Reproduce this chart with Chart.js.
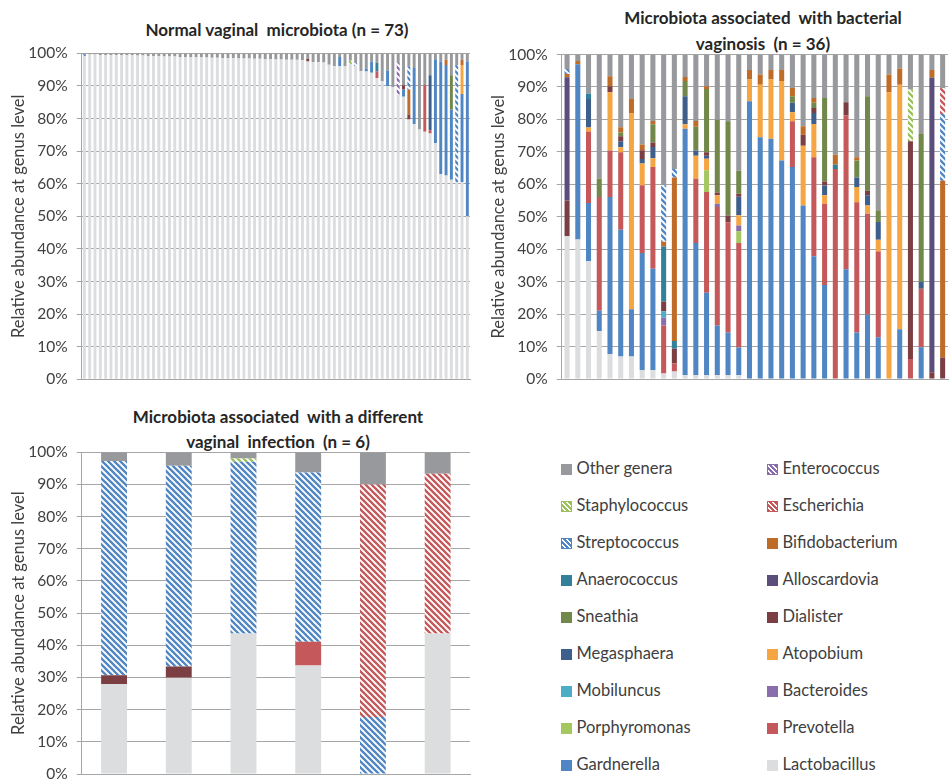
<!DOCTYPE html>
<html><head><meta charset="utf-8">
<script src="https://cdn.jsdelivr.net/npm/chart.js@4.4.0/dist/chart.umd.min.js"></script>
<style>
body{margin:0;background:#fff;width:950px;height:780px;position:relative;overflow:hidden;font-family:Lato,'Open Sans',sans-serif;}
canvas{position:absolute}
.title{position:absolute;font-weight:bold;font-size:17px;color:#262626;text-align:center;white-space:pre;}
.lg{position:absolute;font-size:16.5px;color:#404040;height:20px;line-height:20px;white-space:nowrap}
.lg i{display:inline-block;width:11px;height:11px;margin-right:5px;vertical-align:-1px;box-sizing:border-box}
</style></head><body>
<div class="title" style="left:77px;width:400px;top:17px;line-height:26px">Normal vaginal  microbiota (n = 73)</div>
<div class="title" style="left:563px;width:400px;top:5px;line-height:26px">Microbiota associated  with bacterial
vaginosis  (n = 36)</div>
<div class="title" style="left:78px;width:400px;top:404px;line-height:25px">Microbiota associated  with a different
vaginal  infection  (n = 6)</div>
<canvas id="c1" width="478" height="400" style="left:0;top:0"></canvas>
<canvas id="c2" width="470" height="400" style="left:480px;top:0"></canvas>
<canvas id="c3" width="478" height="405" style="left:0;top:395px"></canvas>
<div id="legend"></div>
<script>
// ---- genera (stacking order, bottom to top) ----
const genera = ['Lactobacillus','Gardnerella','Prevotella','Porphyromonas','Bacteroides','Mobiluncus','Atopobium','Megasphaera','Dialister','Sneathia','Alloscardovia','Anaerococcus','Bifidobacterium','Streptococcus','Escherichia','Staphylococcus','Enterococcus','Other genera'];
// legend reading order (row by row, two columns)
const legendOrder = ['Other genera','Enterococcus','Staphylococcus','Escherichia','Streptococcus','Bifidobacterium','Anaerococcus','Alloscardovia','Sneathia','Dialister','Megasphaera','Atopobium','Mobiluncus','Bacteroides','Porphyromonas','Prevotella','Gardnerella','Lactobacillus'];

// ---- Panel 1: normal vaginal microbiota (73 samples) ----
const normalLactobacillus = [99.2,99.6,99.6,99.5,99.5,99.5,99.5,99.4,99.4,99.4,
 99.3,99.3,99.2,99.1,99.1,99.0,99.0,99.0,98.9,98.9,
 98.9,98.8,98.8,98.7,98.6,98.6,98.5,98.5,98.5,98.4,
 98.4,98.4,98.3,98.3,98.2,98.2,98.1,98.1,98.0,98.0,
 98.0,97.9,97.5,97.3,97.3,97.2,96.5,96.0,96.0,96.0,
 96.7,96.0,94.5,94.4,94.0,92.4,91.4,89.9,89.6,87.3,
 86.7,79.7,78.2,76.6,75.9,75.4,72.5,63.0,62.5,61.2,
 60.5,60.5,50.0];
const normalOther = [0.3,0.4,0.4,0.5,0.5,0.5,0.5,0.6,0.6,0.6,
 0.7,0.7,0.8,0.9,0.9,1.0,1.0,1.0,1.1,1.1,
 1.1,1.2,1.2,1.3,1.4,1.4,1.5,1.5,1.5,1.6,
 1.6,1.6,1.7,1.7,1.8,1.8,1.9,1.9,2.0,2.0,
 2.0,2.1,1.7,2.7,2.7,2.8,3.5,4.0,1.1,4.0,
 2.3,3.0,5.5,4.7,2.5,3.0,8.6,5.3,10.4,3.0,
 9.8,4.0,4.5,23.4,9.7,6.7,1.8,2.5,2.0,6.7,
 3.6,2.0,2.5];
// minor genera as [sample number, value]
const normalGardnerella = [[49,2.9],[54,0.9],[55,3.5],[58,4.8],[61,2.2],[63,17.3],[67,25.7],[68,34.5],[69,33.9],[70,21.5],[72,27],[73,47.5]];
const normalPrevotella = [[56,2.1],[65,14.4],[66,1.0]];
const normalAtopobium = [[72,8.9]];
const normalMegasphaera = [[66,16.9]];
const normalDialister = [[43,0.8],[61,1.3],[62,1.5]];
const normalSneathia = [[70,10.6]];
const normalAnaerococcus = [[56,2.5]];
const normalBifidobacterium = [[62,7.7],[69,1.6],[72,1.6]];
const normalStreptococcus = [[1,0.5],[52,1.0],[62,7.1],[71,35.9]];
const normalStaphylococcus = [[51,1.0]];
const normalEnterococcus = [[60,9.7]];

// ---- Panel 2: bacterial vaginosis (36 samples) ----
const bvLactobacillus = [44,43,36.4,14.8,7.7,6.9,6.9,2.8,2.8,1.7,2.3,1.2,1.2,1.2,1.2,1.2,1.2,0,0,0,0,0,0,0,0,0,0,0,0,0,0,0,0,0,0,0];
const bvGardnerella = [0,54,17.8,6.2,48.4,39.1,14.6,36,31.2,0,0,75.9,40.7,25.4,15.3,13.1,8.5,85.6,74.5,74,67.3,65.3,53.5,37.8,29,0,33.8,14.3,19.8,12.9,0,15.3,0,9.8,0,0];
const bvPrevotella = [0,0,22.1,35.1,14.3,23.9,0,20.9,31.3,14.8,2.5,0,19.8,31,36.5,34,32.2,0,0,0,0,14.1,0,30.5,25,64.7,47.4,40.2,31.1,26.4,0,0,6.2,18,0,0];
const bvPorphyromonas = [[14,6.7],[17,3.6]];
const bvBacteroides = [[10,2.4],[15,1.0],[17,1.8]];
const bvMobiluncus = [[10,2.0]];
const bvAtopobium = [0,0,1.2,0,18,1.5,60.3,6.7,2.7,0,0,1.4,7.1,3.6,2.6,0,3.2,6.7,16.2,18.3,24.5,2.8,18.4,10.3,2.6,0,0,4.7,2.6,3.6,88.4,75.4,0,0,0,0];
const bvMegasphaera = [0,0,8.8,0,0,1.9,0,1.4,3.5,0,0,8.6,1.6,0.9,0,0,5.7,0,0,0,0,2.9,0,3.4,3,0,0,2.9,3.1,5.5,0,0,0,2.2,0,0];
const bvDialister = [11,0,0,0,1.8,1.5,0,2.7,1.4,3,4.5,0,0,1.1,0.9,2.1,0.9,0,0,0,0,0,3.4,1.5,1.3,0,4.1,0,1.4,0,0,0,67.1,0,2.1,6.6];
const bvSneathia = [0,0,0,5.6,0,1.2,0,0,5.6,0,0,4.7,7.3,19.5,22.4,29,7.1,0,0,0,0,2,0,1.6,25.7,0,0,5.2,29.1,3.6,0,0,0,45.5,0,0];
const bvAlloscardovia = [[1,38],[35,90.7]];
const bvAnaerococcus = [[3,1.6],[10,16.9],[11,2.4],[26,1.3]];
const bvBifidobacterium = [1,1,0,0,3.1,1.6,4.5,1.8,1,1.5,50.4,1.3,1.8,0.8,0,0,0,2.9,3.1,2.9,3.4,2.6,2.6,1.5,0,3.1,0,1,0,0,5.4,5,0,0,2.4,54.5];
const bvStreptococcus = [[1,1.5],[10,17.4],[11,2.6],[36,20.6]];
const bvEscherichia = [[36,8.0]];
const bvStaphylococcus = [[33,15.9]];
const bvOther = [4.5,2,12.1,38.3,6.7,22.4,13.7,27.7,20.5,40.3,35.3,6.9,20.5,9.8,20.1,20.6,35.8,4.8,6.2,4.8,4.8,10.3,22.1,13.4,13.4,30.9,14.7,31.7,12.9,48,6.2,4.3,10.8,24.5,4.8,10.3];

// ---- Panel 3: a different vaginal infection (6 samples) ----
const infLactobacillus = [28,29.9,43.7,33.7,0,43.7];
const infPrevotella = [0,0,0,7.4,0,0];
const infDialister = [2.7,3.5,0,0,0,0];
const infStreptococcus = [66.6,62.4,53.4,52.6,17.7,0];
const infEscherichia = [0,0,0,0,72.3,49.6];
const infStaphylococcus = [0,0,1.0,0,0,0];
const infOther = [2.7,4.2,1.9,6.3,10,6.7];

// ---- styles ----
const colors = {
 'Lactobacillus':'#dcdddf','Gardnerella':'#4f86c3','Prevotella':'#c4585a','Porphyromonas':'#a5c75f',
 'Bacteroides':'#8a6eab','Mobiluncus':'#4badc8','Atopobium':'#f6a543','Megasphaera':'#3e5e8b',
 'Dialister':'#7b3f43','Sneathia':'#71884a','Alloscardovia':'#5b4e7a','Anaerococcus':'#32809a',
 'Bifidobacterium':'#c06c29','Streptococcus':'#4f86c3','Escherichia':'#c4585a','Staphylococcus':'#9bc15a',
 'Enterococcus':'#8a6eab','Other genera':'#98999c'};
const hatched = new Set(['Streptococcus','Escherichia','Staphylococcus','Enterococcus']);

function hatch(color){
  const s=6, c=document.createElement('canvas'); c.width=s; c.height=s;
  const x=c.getContext('2d'); x.fillStyle='#fff'; x.fillRect(0,0,s,s);
  x.strokeStyle=color; x.lineWidth=2.3; x.beginPath();
  for(let k=-s;k<=s;k+=s){ x.moveTo(k-1,-1); x.lineTo(k+s+1,s+1); }
  x.stroke();
  return x.createPattern(c,'repeat');
}
function fillOf(g){ return hatched.has(g) ? hatch(colors[g]) : colors[g]; }
function dense(n, v){
  if(!v) return new Array(n).fill(0);
  if(v.length && Array.isArray(v[0])){ const a=new Array(n).fill(0); v.forEach(([b,val])=>a[b-1]=val); return a; }
  return v;
}

Chart.defaults.font.family = 'Lato';
const AXIS = '#a6a6a6';

function makeChart(id, n, src, barPct, areaTop, areaBottom, canvasW, areaRight){
  const labels = Array.from({length:n},(_,i)=>String(i+1));
  const datasets = genera.map(g=>({
    label:g, data:dense(n, src[g]), backgroundColor:fillOf(g), borderWidth:0,
    barPercentage:barPct, categoryPercentage:1
  }));
  const cv = document.getElementById(id);
  return new Chart(cv, {
    type:'bar',
    data:{labels, datasets},
    options:{
      responsive:false, animation:false, devicePixelRatio:1,
      layout:{padding:{left:0, right:canvasW-areaRight, top:areaTop, bottom:cv.height-areaBottom}},
      plugins:{legend:{display:false}, tooltip:{enabled:false}},
      scales:{
        x:{stacked:true, ticks:{display:false}, grid:{display:false}, border:{display:true,color:AXIS}, afterFit(s){s.height=0;}},
        y:{stacked:true, min:0, max:100,
           afterFit(s){s.width=81.7;},
           ticks:{stepSize:10, callback:v=>v+'%', color:'#404040', font:{size:15.5}, padding:9},
           grid:{color:AXIS, lineWidth:1, tickLength:5},
           border:{display:true,color:AXIS},
           title:{display:true, text:'Relative abundance at genus level', color:'#404040', font:{size:16.5}, padding:{top:9,bottom:0}}
        }
      }
    }
  });
}

makeChart('c1', 73, {
  'Lactobacillus':normalLactobacillus,'Gardnerella':normalGardnerella,'Prevotella':normalPrevotella,
  'Atopobium':normalAtopobium,'Megasphaera':normalMegasphaera,'Dialister':normalDialister,'Sneathia':normalSneathia,
  'Anaerococcus':normalAnaerococcus,'Bifidobacterium':normalBifidobacterium,'Streptococcus':normalStreptococcus,
  'Staphylococcus':normalStaphylococcus,'Enterococcus':normalEnterococcus,'Other genera':normalOther
}, 0.55, 53.3, 379.3, 478, 470);

makeChart('c2', 36, {
  'Lactobacillus':bvLactobacillus,'Gardnerella':bvGardnerella,'Prevotella':bvPrevotella,'Porphyromonas':bvPorphyromonas,
  'Bacteroides':bvBacteroides,'Mobiluncus':bvMobiluncus,'Atopobium':bvAtopobium,'Megasphaera':bvMegasphaera,
  'Dialister':bvDialister,'Sneathia':bvSneathia,'Alloscardovia':bvAlloscardovia,'Anaerococcus':bvAnaerococcus,
  'Bifidobacterium':bvBifidobacterium,'Streptococcus':bvStreptococcus,'Escherichia':bvEscherichia,
  'Staphylococcus':bvStaphylococcus,'Other genera':bvOther
}, 0.47, 54.5, 379, 470, 468);

makeChart('c3', 6, {
  'Lactobacillus':infLactobacillus,'Prevotella':infPrevotella,'Dialister':infDialister,'Streptococcus':infStreptococcus,
  'Escherichia':infEscherichia,'Staphylococcus':infStaphylococcus,'Other genera':infOther
}, 0.4, 57.3, 379, 478, 470);

// ---- legend ----
const lg = document.getElementById('legend');
legendOrder.forEach((g,k)=>{
  const col = k%2, row = Math.floor(k/2);
  const d = document.createElement('div'); d.className='lg';
  d.style.left = (col? 766.5 : 560.5)+'px';
  d.style.top = (458.3 + row*37)+'px';
  const sw = document.createElement('i');
  if(hatched.has(g)){
    sw.style.background = `repeating-linear-gradient(45deg, ${colors[g]} 0 2px, #fff 2px 3.5px)`;
    sw.style.border = `1.5px solid ${colors[g]}`;
  } else sw.style.background = colors[g];
  d.appendChild(sw); d.appendChild(document.createTextNode(g));
  lg.appendChild(d);
});
</script>
</body></html>
